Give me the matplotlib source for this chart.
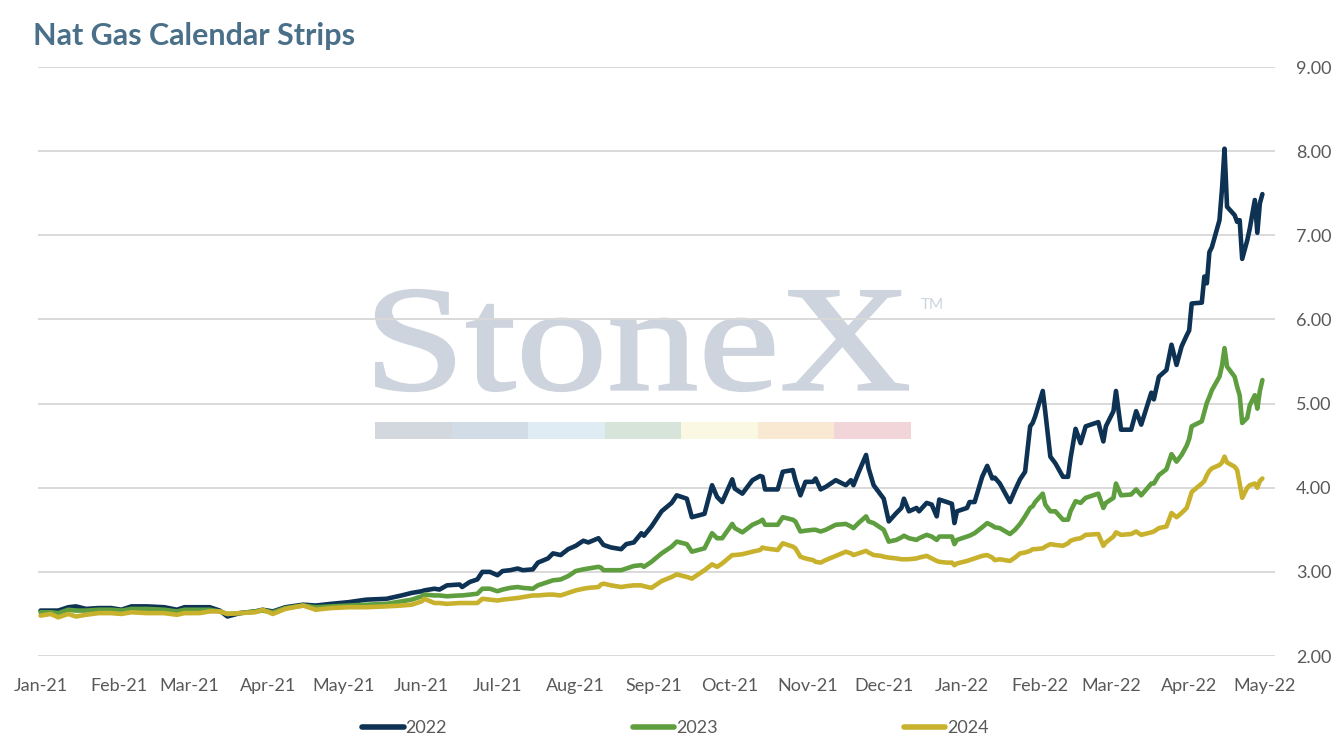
import matplotlib
matplotlib.use('Agg')
import matplotlib.pyplot as plt
import matplotlib.dates as mdates
from matplotlib.patches import Rectangle, PathPatch
from matplotlib.textpath import TextPath
from matplotlib.font_manager import FontProperties
from matplotlib.transforms import Affine2D
import pandas as pd

# values (USD/MMBtu)
dates = [
    '2021-01-01', '2021-01-05', '2021-01-08', '2021-01-12', '2021-01-15', '2021-01-19',
    '2021-01-24', '2021-01-29', '2021-02-02', '2021-02-06', '2021-02-12', '2021-02-19',
    '2021-02-24', '2021-02-27', '2021-03-05', '2021-03-09', '2021-03-13', '2021-03-16',
    '2021-03-21', '2021-03-27', '2021-03-30', '2021-04-03', '2021-04-08', '2021-04-15',
    '2021-04-20', '2021-04-26', '2021-05-03', '2021-05-10', '2021-05-18', '2021-05-24',
    '2021-05-28', '2021-06-01', '2021-06-02', '2021-06-06', '2021-06-08', '2021-06-11',
    '2021-06-16', '2021-06-17', '2021-06-20', '2021-06-23', '2021-06-25', '2021-06-28',
    '2021-07-01', '2021-07-03', '2021-07-06', '2021-07-09', '2021-07-11', '2021-07-15',
    '2021-07-17', '2021-07-21', '2021-07-23', '2021-07-26', '2021-07-29', '2021-08-01',
    '2021-08-04', '2021-08-06', '2021-08-10', '2021-08-11', '2021-08-12', '2021-08-15',
    '2021-08-19', '2021-08-21', '2021-08-24', '2021-08-27', '2021-08-28', '2021-08-31',
    '2021-09-04', '2021-09-08', '2021-09-10', '2021-09-14', '2021-09-16', '2021-09-21',
    '2021-09-24', '2021-09-26', '2021-09-28', '2021-10-02', '2021-10-03', '2021-10-06',
    '2021-10-10', '2021-10-13', '2021-10-14', '2021-10-15', '2021-10-20', '2021-10-22',
    '2021-10-26', '2021-10-27', '2021-10-29', '2021-10-31', '2021-11-03', '2021-11-04',
    '2021-11-06', '2021-11-08', '2021-11-12', '2021-11-16', '2021-11-18', '2021-11-19',
    '2021-11-21', '2021-11-24', '2021-11-25', '2021-11-27', '2021-11-30', '2021-12-01',
    '2021-12-03', '2021-12-06', '2021-12-08', '2021-12-09', '2021-12-11', '2021-12-14',
    '2021-12-15', '2021-12-18', '2021-12-20', '2021-12-22', '2021-12-23', '2021-12-26',
    '2021-12-28', '2021-12-29', '2021-12-30', '2022-01-03', '2022-01-04', '2022-01-06',
    '2022-01-09', '2022-01-11', '2022-01-13', '2022-01-14', '2022-01-16', '2022-01-20',
    '2022-01-22', '2022-01-24', '2022-01-26', '2022-01-28', '2022-01-29', '2022-01-30',
    '2022-02-02', '2022-02-03', '2022-02-05', '2022-02-07', '2022-02-10', '2022-02-12',
    '2022-02-13', '2022-02-15', '2022-02-17', '2022-02-19', '2022-02-24', '2022-02-26',
    '2022-02-27', '2022-03-02', '2022-03-03', '2022-03-05', '2022-03-09', '2022-03-11',
    '2022-03-13', '2022-03-17', '2022-03-18', '2022-03-20', '2022-03-23', '2022-03-25',
    '2022-03-27', '2022-03-29', '2022-03-31', '2022-04-01', '2022-04-02', '2022-04-06',
    '2022-04-07', '2022-04-08', '2022-04-09', '2022-04-10', '2022-04-13', '2022-04-14',
    '2022-04-15', '2022-04-16', '2022-04-19', '2022-04-20', '2022-04-21', '2022-04-22',
    '2022-04-24', '2022-04-25', '2022-04-27', '2022-04-28', '2022-04-29', '2022-04-30',
]

cal_2022 = [
    2.54, 2.54, 2.54, 2.58, 2.59, 2.56, 2.57, 2.57, 2.55, 2.59, 2.59, 2.58,
    2.55, 2.58, 2.58, 2.58, 2.54, 2.47, 2.51, 2.53, 2.55, 2.53, 2.58, 2.61,
    2.60, 2.62, 2.64, 2.67, 2.68, 2.72, 2.75, 2.77, 2.78, 2.80, 2.79, 2.84,
    2.85, 2.82, 2.88, 2.91, 3.00, 3.00, 2.96, 3.01, 3.02, 3.04, 3.02, 3.03,
    3.11, 3.16, 3.22, 3.20, 3.27, 3.31, 3.37, 3.35, 3.40, 3.36, 3.32, 3.29,
    3.27, 3.33, 3.35, 3.46, 3.43, 3.54, 3.72, 3.82, 3.91, 3.87, 3.65, 3.69,
    4.03, 3.89, 3.83, 4.10, 3.99, 3.93, 4.09, 4.14, 4.13, 3.98, 3.98, 4.19,
    4.21, 4.09, 3.91, 4.07, 4.07, 4.11, 3.98, 4.01, 4.09, 4.03, 4.09, 4.03,
    4.18, 4.39, 4.23, 4.03, 3.91, 3.87, 3.60, 3.70, 3.76, 3.87, 3.72, 3.76,
    3.72, 3.82, 3.80, 3.66, 3.86, 3.83, 3.81, 3.58, 3.72, 3.76, 3.83, 3.83,
    4.13, 4.26, 4.11, 4.12, 4.05, 3.83, 3.97, 4.10, 4.19, 4.73, 4.77, 4.85,
    5.15, 4.90, 4.37, 4.29, 4.13, 4.13, 4.35, 4.70, 4.53, 4.73, 4.78, 4.55,
    4.73, 4.91, 5.15, 4.69, 4.69, 4.91, 4.75, 5.13, 5.05, 5.32, 5.40, 5.70,
    5.46, 5.68, 5.81, 5.87, 6.19, 6.20, 6.51, 6.43, 6.80, 6.86, 7.18, 7.55,
    8.03, 7.34, 7.24, 7.16, 7.18, 6.72, 6.94, 7.08, 7.42, 7.03, 7.38, 7.49,
]

cal_2023 = [
    2.52, 2.52, 2.51, 2.55, 2.54, 2.54, 2.55, 2.55, 2.54, 2.56, 2.56, 2.55,
    2.53, 2.55, 2.55, 2.55, 2.53, 2.50, 2.51, 2.53, 2.54, 2.52, 2.57, 2.60,
    2.58, 2.59, 2.60, 2.61, 2.62, 2.65, 2.67, 2.71, 2.73, 2.72, 2.72, 2.71,
    2.72, 2.72, 2.73, 2.74, 2.80, 2.80, 2.77, 2.79, 2.81, 2.82, 2.81, 2.80,
    2.84, 2.88, 2.90, 2.91, 2.95, 3.01, 3.03, 3.04, 3.06, 3.05, 3.02, 3.02,
    3.02, 3.04, 3.07, 3.08, 3.06, 3.12, 3.22, 3.30, 3.36, 3.33, 3.24, 3.28,
    3.46, 3.40, 3.40, 3.57, 3.52, 3.47, 3.56, 3.60, 3.62, 3.56, 3.56, 3.65,
    3.62, 3.60, 3.48, 3.49, 3.50, 3.50, 3.48, 3.50, 3.56, 3.57, 3.54, 3.52,
    3.58, 3.66, 3.60, 3.58, 3.52, 3.50, 3.36, 3.38, 3.41, 3.43, 3.40, 3.38,
    3.40, 3.44, 3.42, 3.38, 3.42, 3.42, 3.42, 3.33, 3.38, 3.42, 3.43, 3.46,
    3.53, 3.58, 3.55, 3.53, 3.52, 3.45, 3.50, 3.57, 3.66, 3.76, 3.78, 3.83,
    3.93, 3.80, 3.72, 3.72, 3.62, 3.62, 3.72, 3.84, 3.82, 3.88, 3.93, 3.76,
    3.82, 3.88, 4.05, 3.91, 3.92, 3.98, 3.91, 4.05, 4.05, 4.15, 4.22, 4.40,
    4.31, 4.39, 4.50, 4.58, 4.73, 4.79, 4.90, 5.01, 5.08, 5.16, 5.32, 5.45,
    5.66, 5.44, 5.32, 5.20, 5.10, 4.77, 4.83, 4.98, 5.10, 4.94, 5.15, 5.28,
]

cal_2024 = [
    2.48, 2.50, 2.46, 2.50, 2.47, 2.49, 2.51, 2.51, 2.50, 2.52, 2.51, 2.51,
    2.49, 2.51, 2.51, 2.53, 2.53, 2.50, 2.51, 2.52, 2.55, 2.50, 2.56, 2.60,
    2.55, 2.57, 2.58, 2.58, 2.59, 2.60, 2.61, 2.65, 2.68, 2.63, 2.63, 2.62,
    2.63, 2.63, 2.63, 2.63, 2.68, 2.67, 2.66, 2.67, 2.68, 2.69, 2.70, 2.72,
    2.72, 2.73, 2.73, 2.72, 2.75, 2.78, 2.80, 2.81, 2.82, 2.85, 2.86, 2.84,
    2.82, 2.83, 2.84, 2.84, 2.83, 2.81, 2.89, 2.94, 2.97, 2.94, 2.92, 3.02,
    3.09, 3.06, 3.10, 3.20, 3.20, 3.21, 3.24, 3.26, 3.29, 3.28, 3.26, 3.34,
    3.30, 3.28, 3.18, 3.16, 3.14, 3.12, 3.11, 3.14, 3.19, 3.24, 3.22, 3.20,
    3.22, 3.25, 3.23, 3.20, 3.19, 3.18, 3.17, 3.16, 3.15, 3.15, 3.15, 3.16,
    3.17, 3.19, 3.16, 3.13, 3.12, 3.11, 3.11, 3.08, 3.10, 3.13, 3.14, 3.16,
    3.19, 3.20, 3.17, 3.14, 3.15, 3.13, 3.17, 3.22, 3.23, 3.25, 3.27, 3.27,
    3.28, 3.30, 3.33, 3.32, 3.31, 3.34, 3.37, 3.39, 3.40, 3.44, 3.45, 3.31,
    3.35, 3.42, 3.47, 3.44, 3.45, 3.48, 3.44, 3.47, 3.48, 3.52, 3.54, 3.70,
    3.65, 3.70, 3.76, 3.85, 3.95, 4.05, 4.08, 4.15, 4.20, 4.23, 4.27, 4.30,
    4.37, 4.30, 4.25, 4.21, 4.05, 3.88, 4.00, 4.03, 4.05, 4.00, 4.08, 4.11,
]

series_names = ['2022', '2023', '2024']
series_colors = ['#0E3254', '#5E9E3E', '#C8B22D']
y_ticks = [2, 3, 4, 5, 6, 7, 8, 9]

# watermark strip colours
strip_colors = ['#D3D8DF', '#D2DCE7', '#E0ECF4', '#D6E4DA', '#FAF8E2', '#FAE9D2', '#F2D5D8']
wm_color = '#CDD4DD'

plt.rcParams['font.family'] = ['Lato', 'DejaVu Sans']

x = pd.to_datetime(dates)

fig = plt.figure(figsize=(13.4, 7.5), dpi=100)
ax = fig.add_axes([0.0284, 0.1253, 0.9231, 0.7853])

for vals, name, col in zip([cal_2022, cal_2023, cal_2024], series_names, series_colors):
    ax.plot(x, vals, color=col, lw=3.3, label=name, zorder=3,
            solid_joinstyle='round', solid_capstyle='round')

# StoneX watermark, behind the grid; glyphs stretched into the logo box
tp = TextPath((0, 0), 'StoneX', size=100, prop=FontProperties(family='Liberation Serif'))
bb = tp.get_extents()
bx0, bx1 = 376 / 1340, 908 / 1340
by0, by1 = 1 - 391 / 750, 1 - 290 / 750
wm_tr = (Affine2D().translate(-bb.x0, -bb.y0)
         .scale((bx1 - bx0) / bb.width, (by1 - by0) / bb.height)
         .translate(bx0, by0) + fig.transFigure)
ax.add_patch(PathPatch(tp, transform=wm_tr, facecolor=wm_color, edgecolor=wm_color,
                       lw=1.6, zorder=0.1))
ax.text(921 / 1340, 1 - 309 / 750, 'TM', transform=fig.transFigure, fontsize=11,
        color=wm_color, ha='left', va='baseline', zorder=0.1)
seg_w = (911 - 375) / 1340 / len(strip_colors)
for i, c in enumerate(strip_colors):
    ax.add_patch(Rectangle((375 / 1340 + i * seg_w, 1 - 439 / 750), seg_w, 17 / 750,
                           transform=fig.transFigure, color=c, lw=0, zorder=0.1))

ax.set_ylim(2, 9)
ax.set_yticks(y_ticks)
ax.yaxis.set_major_formatter(matplotlib.ticker.FormatStrFormatter('%.2f'))
ax.yaxis.tick_right()
ax.set_xlim(pd.Timestamp('2020-12-31'), pd.Timestamp('2022-05-05'))
ax.xaxis.set_major_locator(mdates.MonthLocator())
ax.xaxis.set_major_formatter(mdates.DateFormatter('%b-%y'))

ax.set_axisbelow(True)
ax.grid(axis='y', color='#D9D9D9', lw=1.4, zorder=0.5)
ax.grid(axis='x', visible=False)
for s in ax.spines.values():
    s.set_visible(False)
ax.tick_params(axis='both', length=0, labelsize=13, labelcolor='#595959')
ax.tick_params(axis='x', pad=16)
ax.tick_params(axis='y', pad=15)

fig.text(0.0246, 0.94, 'Nat Gas Calendar Strips', fontsize=22, fontweight='bold',
         color='#4A7089', ha='left', va='baseline')

leg = fig.legend(loc='center', bbox_to_anchor=(0.504, 0.029), ncol=3, frameon=False,
                 handlelength=2.3, handletextpad=0.1, columnspacing=10.3, fontsize=13)
for t in leg.get_texts():
    t.set_color('#595959')
for h in leg.legend_handles:
    h.set_linewidth(4)

fig.savefig('out.png', dpi=100)
